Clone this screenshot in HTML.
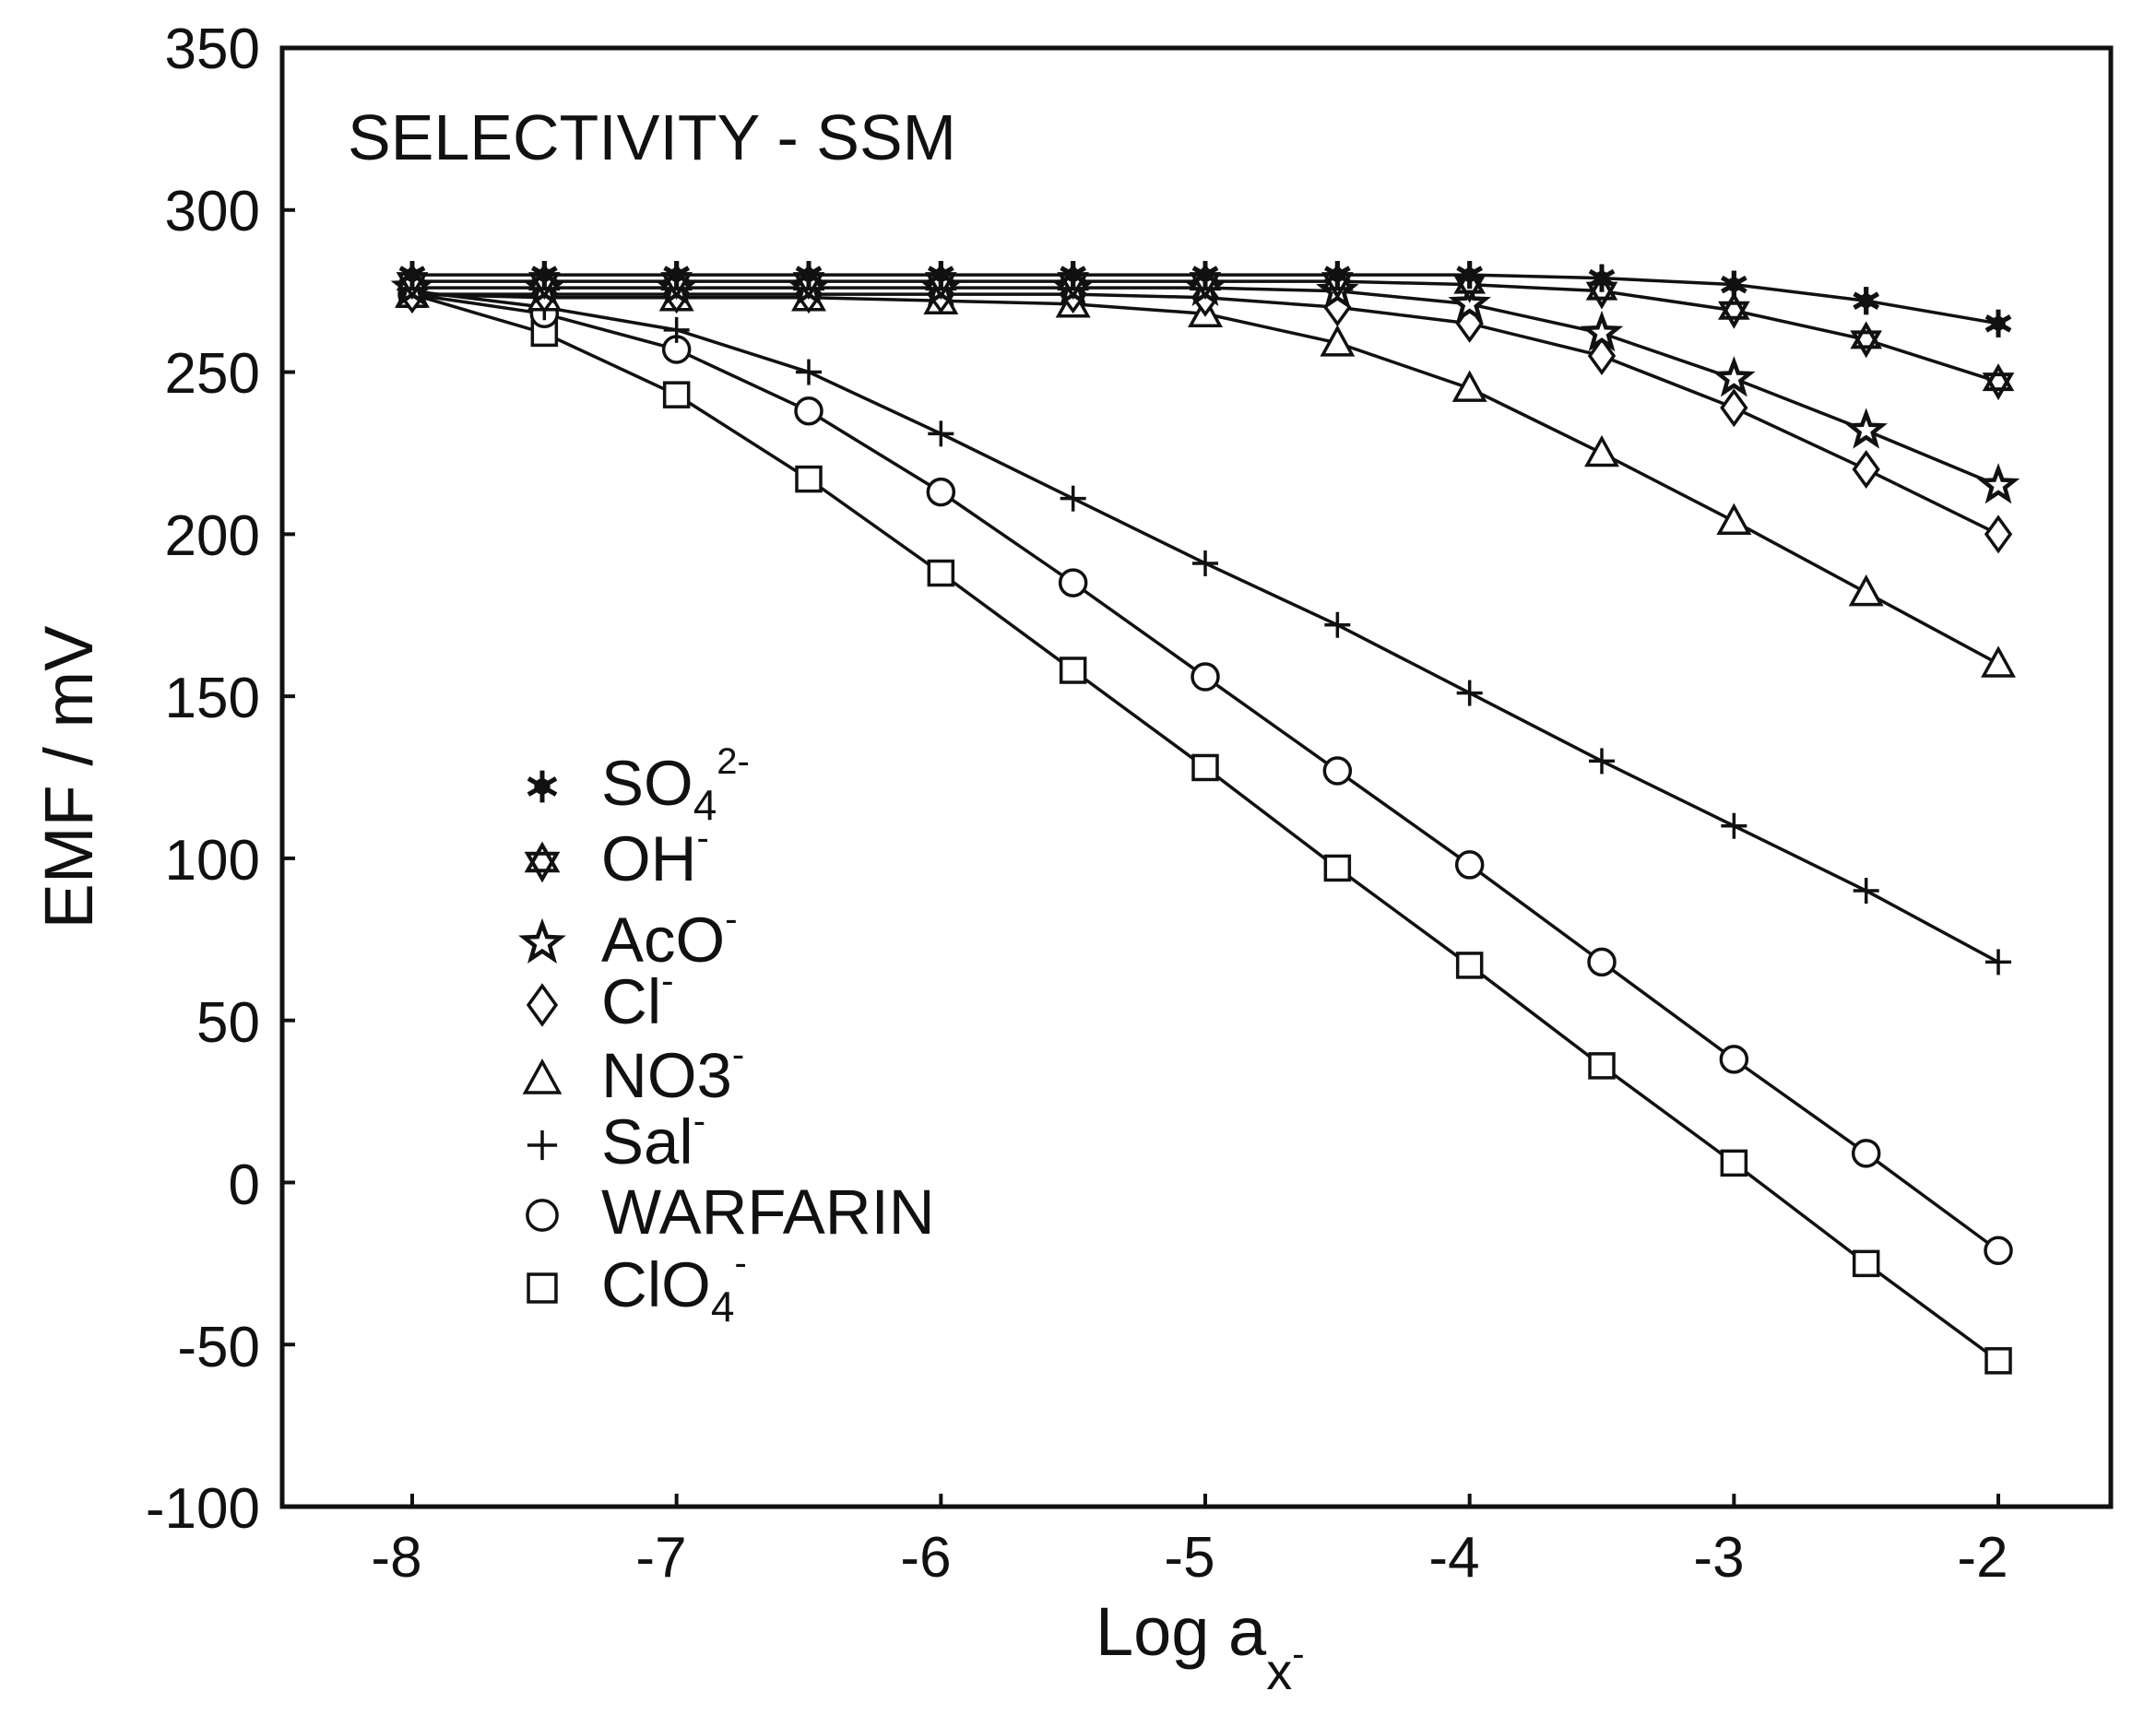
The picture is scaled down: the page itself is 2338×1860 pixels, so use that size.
<!DOCTYPE html>
<html><head><meta charset="utf-8"><style>
html,body{margin:0;padding:0;background:#fff;}
svg{display:block;}
text{font-family:"Liberation Sans",Arial,sans-serif;fill:#111;}
</style></head><body>
<svg id="s" width="2338" height="1860" viewBox="0 0 2338 1860" xmlns="http://www.w3.org/2000/svg">
<rect width="2338" height="1860" fill="#fff"/>
<rect x="306" y="52" width="1983" height="1582" fill="none" stroke="#111" stroke-width="5"/>
<g id="ticks" stroke="#111" stroke-width="4"></g>
<g font-size="62" text-anchor="end">
<text x="282" y="74">350</text><text x="282" y="250">300</text><text x="282" y="426">250</text>
<text x="282" y="602">200</text><text x="282" y="778">150</text><text x="282" y="954">100</text>
<text x="282" y="1130">50</text><text x="282" y="1306">0</text><text x="282" y="1482">-50</text>
<text x="282" y="1657">-100</text>
</g>
<g font-size="62" text-anchor="middle">
<text x="430" y="1710">-8</text><text x="717" y="1710">-7</text><text x="1004" y="1710">-6</text>
<text x="1290" y="1710">-5</text><text x="1577" y="1710">-4</text><text x="1864" y="1710">-3</text>
<text x="2150" y="1710">-2</text>
</g>
<text x="1188" y="1795" font-size="74">Log a<tspan font-size="56" dy="37">x</tspan><tspan font-size="40" dy="-25">-</tspan></text>
<text transform="translate(100,843) rotate(-90)" font-size="74" text-anchor="middle">EMF / mV</text>
<text x="377" y="173" font-size="70">SELECTIVITY - SSM</text>
<g font-size="69">
<text x="652" y="873">SO<tspan font-size="46" dy="16">4</tspan><tspan font-size="40" dy="-50">2-</tspan></text>
<text x="652" y="955">OH<tspan font-size="40" dy="-33">-</tspan></text>
<text x="652" y="1043">AcO<tspan font-size="40" dy="-33">-</tspan></text>
<text x="652" y="1110">Cl<tspan font-size="40" dy="-33">-</tspan></text>
<text x="652" y="1190">NO3<tspan font-size="40" dy="-33">-</tspan></text>
<text x="652" y="1262">Sal<tspan font-size="40" dy="-33">-</tspan></text>
<text x="652" y="1338">WARFARIN</text>
<text x="652" y="1417">ClO<tspan font-size="46" dy="16">4</tspan><tspan font-size="40" dy="-50">-</tspan></text>
</g>
<g id="data" stroke="#111" stroke-width="3.5" fill="none"></g>
</svg>
<script>
function X(v){return 447+(v+8)*286.67;}
function Y(e){return 52+(350-e)*3.5156;}
var tk=document.getElementById('ticks'),h='';
for(var e=-100;e<=350;e+=50){h+='<line x1="306" x2="320" y1="'+Y(e)+'" y2="'+Y(e)+'"/>';}
for(var v=-8;v<=-2;v++){h+='<line y1="1634" y2="1620" x1="'+X(v)+'" x2="'+X(v)+'"/>';}
tk.innerHTML=h;
var xs=[-8,-7.5,-7,-6.5,-6,-5.5,-5,-4.5,-4,-3.5,-3,-2.5,-2];
var S={
so4:[280,280,280,280,280,280,280,280,280,279,277,272,265],
oh:[278,278,278,278,278,278,278,278,277,275,269,260,247],
aco:[276,276,276,276,276,276,276,275,271,262,248,232,215],
cl:[274,274,274,274,274,274,273,270,265,255,239,220,200],
no3:[274,273,273,273,272,271,268,259,245,225,204,182,160],
sal:[275,270,263,250,231,211,191,172,151,130,110,90,68],
war:[274,268,257,238,213,185,156,127,98,68,38,9,-21],
clo4:[274,262,243,217,188,158,128,97,67,36,6,-25,-55]};
function mk(t,x,y,k){
 k=k||1;var s='';
 if(t=='so4'){for(var i=0;i<6;i++){var a2=i*Math.PI/3+Math.PI/2;var dx=15*k*Math.cos(a2),dy=15*k*Math.sin(a2);s+='<line x1="'+(x-dx)+'" y1="'+(y-dy)+'" x2="'+(x+dx)+'" y2="'+(y+dy)+'" stroke-width="5"/>';}s+='<circle cx="'+x+'" cy="'+y+'" r="'+(6*k)+'" fill="#111"/>';}
 else if(t=='oh'){var p1='',p2='';for(var i=0;i<3;i++){var a=-Math.PI/2+i*2*Math.PI/3,b=Math.PI/2+i*2*Math.PI/3;p1+=(x+16*k*Math.cos(a))+','+(y+16*k*Math.sin(a))+' ';p2+=(x+16*k*Math.cos(b))+','+(y+16*k*Math.sin(b))+' ';}s+='<polygon points="'+p1+'" fill="#fff" stroke-width="4"/><polygon points="'+p2+'" fill="none" stroke-width="4"/>';}
 else if(t=='aco'){var p='';for(var i=0;i<10;i++){var r=(i%2?7.5:18)*k,a=-Math.PI/2+i*Math.PI/5;p+=(x+r*Math.cos(a))+','+(y+r*Math.sin(a))+' ';}s+='<polygon points="'+p+'" fill="#fff" stroke-width="4.5"/>';}
 else if(t=='cl'){s+='<polygon points="'+x+','+(y-18*k)+' '+(x+13*k)+','+y+' '+x+','+(y+18*k)+' '+(x-13*k)+','+y+'" fill="#fff"/>';}
 else if(t=='no3'){s+='<polygon points="'+x+','+(y-16*k)+' '+(x+16*k)+','+(y+13*k)+' '+(x-16*k)+','+(y+13*k)+'" fill="#fff"/>';}
 else if(t=='sal'){s+='<line x1="'+(x-14*k)+'" x2="'+(x+14*k)+'" y1="'+y+'" y2="'+y+'"/><line y1="'+(y-14*k)+'" y2="'+(y+14*k)+'" x1="'+x+'" x2="'+x+'"/>';}
 else if(t=='war'){s+='<circle cx="'+x+'" cy="'+y+'" r="'+(14*k)+'" fill="#fff"/>';}
 else if(t=='clo4'){s+='<rect x="'+(x-13*k)+'" y="'+(y-13*k)+'" width="'+(26*k)+'" height="'+(26*k)+'" fill="#fff"/>';}
 return s;
}
var d='',order=['clo4','war','sal','no3','cl','aco','oh','so4'];
order.forEach(function(k){var p='';for(var i=0;i<xs.length;i++)p+=X(xs[i])+','+Y(S[k][i])+' ';d+='<polyline points="'+p+'"/>';});
order.forEach(function(k){for(var i=0;i<xs.length;i++)d+=mk(k,X(xs[i]),Y(S[k][i]));});
var ly={so4:853,oh:935,aco:1023,cl:1090,no3:1170,sal:1242,war:1318,clo4:1397};
for(var k in ly)d+=mk(k,588,ly[k],1.15);
document.getElementById('data').innerHTML=d;
</script>
</body></html>
